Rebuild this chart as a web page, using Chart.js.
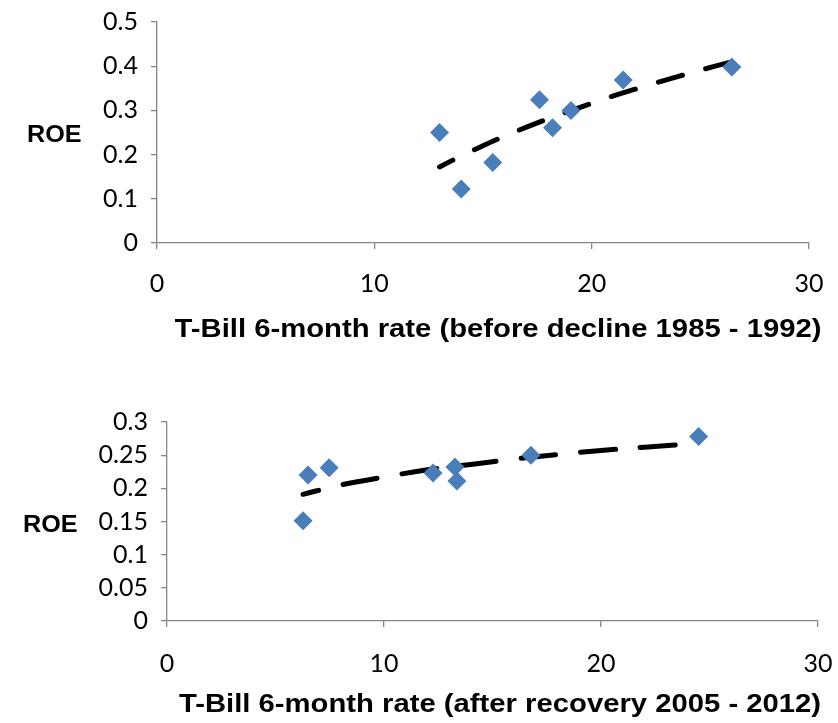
<!DOCTYPE html>
<html>
<head>
<meta charset="utf-8">
<script src="https://cdn.jsdelivr.net/npm/chart.js@4/dist/chart.umd.min.js"></script>
<style>
  html, body { margin: 0; padding: 0; background: #fff; }
  #wrap { position: relative; width: 838px; height: 723px; overflow: hidden; }
  .cv { position: absolute; left: 0; }
  .txt { position: absolute; font-family: "Liberation Sans", Arial, sans-serif; font-weight: bold; color: #000; line-height: 1; white-space: nowrap; }
  .ylab { font-size: 24px; transform-origin: 0 0; transform: scaleX(1.05); }
  .xlab { font-size: 26px; transform: translateX(-50%) scaleX(1.125); }
</style>
</head>
<body>
<div id="wrap">
  <div class="cv" style="top:0;width:838px;height:360px;"><canvas id="c1"></canvas></div>
  <div class="cv" style="top:400px;width:838px;height:323px;"><canvas id="c2"></canvas></div>
  <div class="txt ylab" id="roe1" style="left:27px;top:122px;"></div>
  <div class="txt ylab" id="roe2" style="left:23px;top:512px;"></div>
  <div class="txt xlab" id="xt1" style="left:498px;top:315px;"></div>
  <div class="txt xlab" id="xt2" style="left:500px;top:690px;"></div>
</div>
<script>
// ---- Top chart: before decline 1985 - 1992 ----
const topRate = [13.0, 14.0, 15.45, 17.6, 18.2, 19.05, 21.45, 26.45];
const topROE  = [0.25, 0.122, 0.182, 0.324, 0.261, 0.30, 0.369, 0.398];
// dashed trendline
const topTrendX = [13.0, 14, 15, 16, 17, 18, 19, 20, 21, 22, 23, 24, 25, 26.45];
const topTrendY = [0.172, 0.197, 0.220, 0.242, 0.262, 0.281, 0.299, 0.316, 0.333, 0.348, 0.363, 0.377, 0.391, 0.410];
const topYTicks = ['0', '0.1', '0.2', '0.3', '0.4', '0.5'];
const topXTicks = ['0', '10', '20', '30'];
const topXTitle = 'T-Bill 6-month rate (before decline 1985 - 1992)';
const topYTitle = 'ROE';

// ---- Bottom chart: after recovery 2005 - 2012 ----
const botRate = [6.27, 6.5, 7.47, 12.26, 13.27, 13.36, 16.77, 24.5];
const botROE  = [0.151, 0.220, 0.231, 0.223, 0.232, 0.211, 0.250, 0.278];
const botTrendX = [6.27, 8, 10, 12, 14, 16, 18, 20, 22, 24.5];
const botTrendY = [0.191, 0.205, 0.217, 0.228, 0.236, 0.244, 0.251, 0.257, 0.262, 0.268];
const botYTicks = ['0', '0.05', '0.1', '0.15', '0.2', '0.25', '0.3'];
const botXTicks = ['0', '10', '20', '30'];
const botXTitle = 'T-Bill 6-month rate (after recovery 2005 - 2012)';
const botYTitle = 'ROE';

document.getElementById('roe1').textContent = topYTitle;
document.getElementById('roe2').textContent = botYTitle;
document.getElementById('xt1').textContent = topXTitle;
document.getElementById('xt2').textContent = botXTitle;

const tickFont = { family: 'Lato, "Open Sans", sans-serif', size: 25 };
const axisGrey = '#868686';

function pts(xs, ys) { return xs.map((x, i) => ({ x: x, y: ys[i] })); }

function makeChart(id, cfg) {
  return new Chart(document.getElementById(id), {
    type: 'scatter',
    data: {
      datasets: [
        {
          type: 'line',
          data: pts(cfg.trendX, cfg.trendY),
          borderColor: '#000',
          borderWidth: 5,
          borderDash: cfg.dash,
          borderDashOffset: cfg.dashOffset,
          borderCapStyle: 'round',
          pointRadius: 0,
          tension: 0.4,
          fill: false,
          order: 2
        },
        {
          data: pts(cfg.x, cfg.y),
          backgroundColor: '#4A7EBB',
          borderColor: '#4A7EBB',
          borderWidth: 0,
          pointStyle: 'rectRot',
          pointRadius: 9.5,
          pointHoverRadius: 9.5,
          order: 1
        }
      ]
    },
    options: {
      responsive: true,
      maintainAspectRatio: false,
      animation: false,
      events: [],
      layout: { padding: { top: 22, right: cfg.padRight, left: 0, bottom: 0 } },
      plugins: { legend: { display: false }, tooltip: { enabled: false } },
      scales: {
        x: {
          type: 'linear',
          min: 0, max: 30,
          afterFit: (s) => { s.height = cfg.xHeight; s.paddingLeft = 0; s.paddingRight = 0; },
          afterBuildTicks: (s) => { s.ticks = cfg.xTicks.map(t => ({ value: +t })); },
          ticks: {
            color: '#000', font: tickFont, padding: cfg.xTickPad, maxRotation: 0,
            callback: (v, i) => cfg.xTicks[i]
          },
          grid: { display: true, drawOnChartArea: false, drawTicks: true, tickLength: 6, color: axisGrey, lineWidth: 1.3 },
          border: { display: true, color: axisGrey, width: 1.3 }
        },
        y: {
          type: 'linear',
          min: 0, max: cfg.yMax,
          afterFit: (s) => { s.width = cfg.yWidth; s.paddingTop = 0; s.paddingBottom = 0; },
          afterBuildTicks: (s) => { s.ticks = cfg.yTicks.map(t => ({ value: +t })); },
          ticks: {
            color: '#000', font: tickFont, padding: 13,
            callback: (v, i) => cfg.yTicks[i]
          },
          grid: { display: true, drawOnChartArea: false, drawTicks: true, tickLength: 6, color: axisGrey, lineWidth: 1.3 },
          border: { display: true, color: axisGrey, width: 1.3 }
        }
      }
    }
  });
}

makeChart('c1', {
  x: topRate, y: topROE, trendX: topTrendX, trendY: topTrendY,
  dash: [25, 24], dashOffset: 10,
  yMax: 0.5, yTicks: topYTicks, xTicks: topXTicks,
  yWidth: 157, xHeight: 117, padRight: 29, xTickPad: 20
});
makeChart('c2', {
  x: botRate, y: botROE, trendX: botTrendX, trendY: botTrendY,
  dash: [35, 25], dashOffset: 19,
  yMax: 0.3, yTicks: botYTicks, xTicks: botXTicks,
  yWidth: 167, xHeight: 102, padRight: 20, xTickPad: 22
});
</script>
</body>
</html>
